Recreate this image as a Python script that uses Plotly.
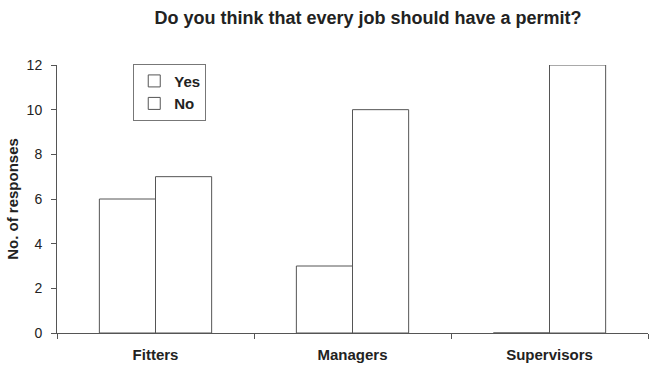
import plotly.graph_objects as go

categories = ["Fitters", "Managers", "Supervisors"]
yes_values = [6, 3, 0]
no_values = [7, 10, 12]
y_ticks = [0, 2, 4, 6, 8, 10, 12]

line_col = "#555555"
txt_col = "#222222"
fam = "Liberation Sans, Arial, sans-serif"

fig = go.Figure()
fig.add_trace(go.Bar(name="Yes", x=categories, y=yes_values,
                     marker=dict(color="white", line=dict(color=line_col, width=1))))
fig.add_trace(go.Bar(name="No", x=categories, y=no_values,
                     marker=dict(color="white", line=dict(color=line_col, width=1))))

fig.update_layout(
    width=649, height=368,
    margin=dict(l=57, r=1, t=65, b=35),
    paper_bgcolor="white", plot_bgcolor="white",
    barmode="group", bargap=0.43, bargroupgap=0,
    font=dict(family=fam, size=14, color=txt_col),
    title=dict(text="Do you think that every job should have a permit?",
               x=0.567, xanchor="center", y=0.951, yanchor="middle",
               font=dict(family=fam, size=18, weight="bold", color=txt_col)),
    legend=dict(x=0.129, y=1.005, xanchor="left", yanchor="top",
                bgcolor="white", bordercolor="#777777", borderwidth=1,
                font=dict(family=fam, size=15, weight="bold", color=txt_col),
                itemwidth=30),
    showlegend=True,
)
fig.update_xaxes(type="category", tickson="boundaries", ticks="outside", ticklen=5,
                 tickcolor=line_col, showline=True, linecolor=line_col, linewidth=1,
                 showgrid=False, zeroline=False, ticklabelstandoff=8,
                 tickfont=dict(family=fam, size=15, weight="bold", color=txt_col),
                 range=[-0.5, 2.5])
fig.update_yaxes(range=[0, 12], tickvals=y_ticks, ticks="outside", ticklen=5,
                 tickcolor=line_col, showline=True, linecolor=line_col, linewidth=1,
                 showgrid=False, zeroline=False, ticklabelstandoff=6,
                 title=dict(text="No. of responses", standoff=4,
                            font=dict(family=fam, size=15, weight="bold", color=txt_col)),
                 tickfont=dict(family=fam, size=14, color=txt_col))

fig.write_html("out.html")
